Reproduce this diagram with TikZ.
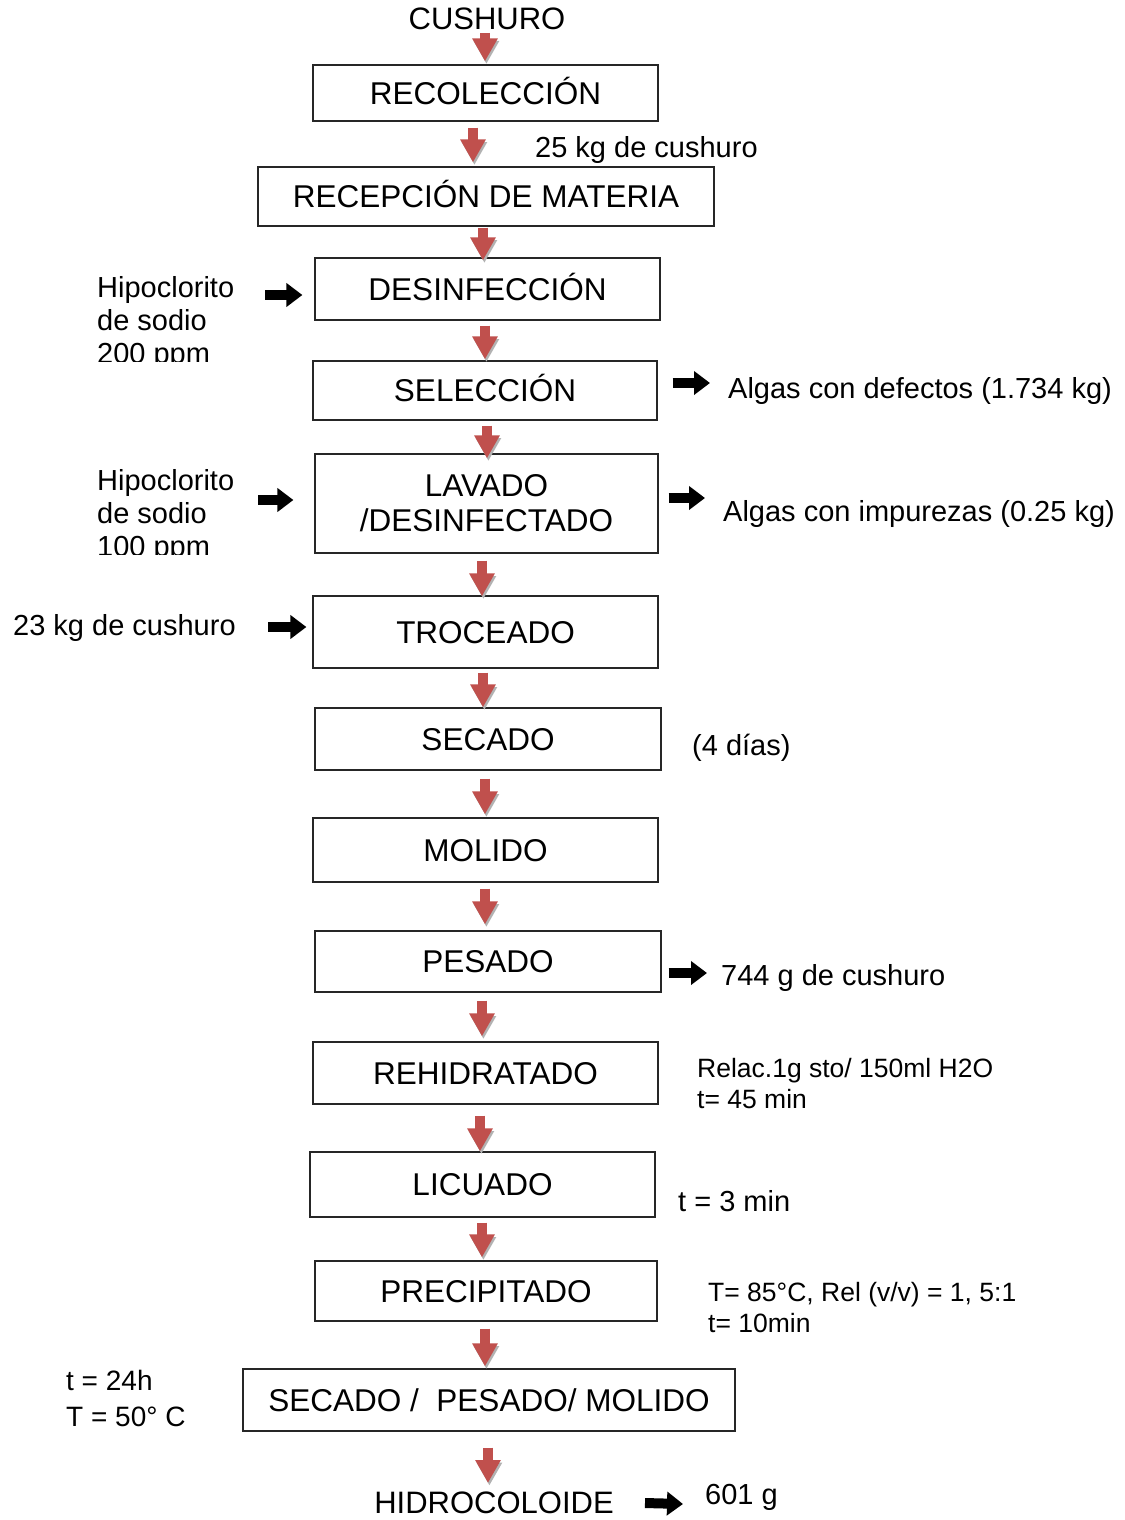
\documentclass[tikz,border=0pt]{standalone}
\usepackage{fontspec}
\setmainfont{Liberation Sans}
\usetikzlibrary{arrows.meta}
\definecolor{arrred}{RGB}{192,80,77}
\newcommand{\boxfnt}{\fontsize{31.5}{35}\selectfont}
\newcommand{\sidefnt}{\fontsize{29}{33}\selectfont}
\newcommand{\smallfnt}{\fontsize{26.5}{30}\selectfont}
\newcommand{\tfnt}{\fontsize{28}{30}\selectfont}
\begin{document}
\begin{tikzpicture}[x=1pt,y=-1pt,
  box/.style={draw=black!85, line width=1.2pt, inner sep=0pt, text height=22.5pt, text depth=0pt, font=\boxfnt},
  boxtwo/.style={draw=black!85, line width=1.2pt, inner sep=0pt, font=\boxfnt, align=center},
  side/.style={inner sep=0pt, anchor=base west, font=\sidefnt},
  smalltxt/.style={inner sep=0pt, anchor=base west, font=\smallfnt},
  ttxt/.style={inner sep=0pt, anchor=base west, font=\tfnt},
  bigtxt/.style={inner sep=0pt, anchor=base, font=\fontsize{31}{35}\selectfont},
  redarr/.style={draw=arrred, line width=10pt, -{Triangle[width=24pt,length=23pt]},
    preaction={draw=black!30, transform canvas={shift={(1.4pt,-2.6pt)}}}},
  blkarr/.style={draw=black, line width=10pt, -{Triangle[width=23pt,length=16pt]}}
]
\useasboundingbox[fill=white] (0,0) rectangle (1124,1520);

% process boxes
\node[box, minimum width=345pt, minimum height=56pt] (b1) at (485.5,93) {RECOLECCIÓN};
\node[box, minimum width=456pt, minimum height=59pt] (b2) at (486,196.5) {RECEPCIÓN DE MATERIA};
\node[box, minimum width=345pt, minimum height=62pt] (b3) at (487.5,289) {DESINFECCIÓN};
\node[box, minimum width=344pt, minimum height=59pt] (b4) at (485,390.5) {SELECCIÓN};
\node[boxtwo, minimum width=343pt, minimum height=99pt] (b5) at (486.5,503.5) {LAVADO\\/DESINFECTADO};
\node[box, minimum width=345pt, minimum height=72pt] (b6) at (485.5,632) {TROCEADO};
\node[box, minimum width=346pt, minimum height=62pt] (b7) at (488,739) {SECADO};
\node[box, minimum width=345pt, minimum height=64pt] (b8) at (485.5,850) {MOLIDO};
\node[box, minimum width=346pt, minimum height=61pt] (b9) at (488,961.5) {PESADO};
\node[box, minimum width=345pt, minimum height=62pt] (b10) at (485.5,1073) {REHIDRATADO};
\node[box, minimum width=345pt, minimum height=65pt] (b11) at (482.5,1184.5) {LICUADO};
\node[box, minimum width=342pt, minimum height=60pt] (b12) at (486,1291) {PRECIPITADO};
\node[box, minimum width=492pt, minimum height=62pt] (b13) at (489,1400) {SECADO /\ \ PESADO/ MOLIDO};

% top and bottom labels
\node[bigtxt] (cush) at (487,30) {CUSHURO};
\node[bigtxt] (hidro) at (494,1513) {HIDROCOLOIDE};

% side texts
\node[side] (kg25) at (535,157) {25 kg de cushuro};
\begin{scope}
  \clip (0,250) rectangle (312,361);
  \node[side] (hipoA) at (97,297) {Hipoclorito};
  \node[side] (hipoB) at (97,330) {de sodio};
  \node[side] (hipoC) at (97,363) {200 ppm};
\end{scope}
\node[side] (defect) at (728,398) {Algas con defectos (1.734 kg)};
\begin{scope}
  \clip (0,450) rectangle (312,554);
  \node[side] (hipoD) at (97,490) {Hipoclorito};
  \node[side] (hipoE) at (97,523) {de sodio};
  \node[side] (hipoF) at (97,556) {100 ppm};
\end{scope}
\node[side] (impur) at (723,521) {Algas con impurezas (0.25 kg)};
\node[side] (kgA) at (13,635) {23 kg de cushuro};
\node[side] (dias) at (692,755) {(4 días)};
\node[side] (g744) at (721,985) {744 g de cushuro};
\node[smalltxt] (relA) at (697,1077) {Relac.1g sto/ 150ml H2O};
\node[smalltxt] (relB) at (697,1108) {t= 45 min};
\node[side] (tmin) at (678,1211) {t = 3 min};
\node[smalltxt] (precA) at (708,1301) {T= 85°C, Rel (v/v) = 1, 5:1};
\node[smalltxt] (precB) at (708,1332) {t= 10min};
\node[ttxt] (t24) at (66,1390) {t = 24h};
\node[ttxt] (T50) at (66,1426) {T = 50° C};
\node[side] (g601) at (705,1504) {601 g};

% red flow arrows
\draw[redarr] ([shift={(-2,3)}]cush.base) -- ([shift={(-0.5,-3)}]b1.north);
\draw[redarr] ([shift={(-12.5,6)}]b1.south) -- ([shift={(-13,-4)}]b2.north);
\draw[redarr] ([shift={(-3,1)}]b2.south) -- ([shift={(-4.5,3)}]b3.north);
\draw[redarr] ([shift={(-2.5,5)}]b3.south) -- ([shift={(0,-1)}]b4.north);
\draw[redarr] ([shift={(2,5)}]b4.south) -- ([shift={(0.5,5)}]b5.north);
\draw[redarr] ([shift={(-4.5,7)}]b5.south) -- ([shift={(-3.5,1)}]b6.north);
\draw[redarr] ([shift={(-2.5,4)}]b6.south) -- ([shift={(-5,0)}]b7.north);
\draw[redarr] ([shift={(-3,8)}]b7.south) -- ([shift={(-0.5,-3)}]b8.north);
\draw[redarr] ([shift={(-0.5,6)}]b8.south) -- ([shift={(-3,-6)}]b9.north);
\draw[redarr] ([shift={(-6,8)}]b9.south) -- ([shift={(-3.5,-5)}]b10.north);
\draw[redarr] ([shift={(-5.5,11)}]b10.south) -- ([shift={(-2.5,0)}]b11.north);
\draw[redarr] ([shift={(-0.5,5)}]b11.south) -- ([shift={(-4,-3)}]b12.north);
\draw[redarr] ([shift={(-1,7)}]b12.south) -- ([shift={(-4,-2)}]b13.north);
\draw[redarr] ([shift={(-1,16)}]b13.south) -- ([shift={(-6,-30)}]hidro.base);

% black side arrows
\draw[blkarr] ([shift={(168,-2)}]hipoA.base west) -- ([shift={(-12,6)}]b3.west);
\draw[blkarr] ([shift={(15,-7.5)}]b4.east) -- ([shift={(-18,-15)}]defect.base west);
\draw[blkarr] ([shift={(161,10)}]hipoD.base west) -- ([shift={(-21,-3.5)}]b5.west);
\draw[blkarr] ([shift={(10,-5.5)}]b5.east) -- ([shift={(-18,-23)}]impur.base west);
\draw[blkarr] ([shift={(255,-8)}]kgA.base west) -- ([shift={(-6,-5)}]b6.west);
\draw[blkarr] ([shift={(7,11.5)}]b9.east) -- ([shift={(-14,-12)}]g744.base west);
\draw[blkarr] ([shift={(151,-10)}]hidro.base) -- ([shift={(-22,0)}]g601.base west);
\end{tikzpicture}
\end{document}
